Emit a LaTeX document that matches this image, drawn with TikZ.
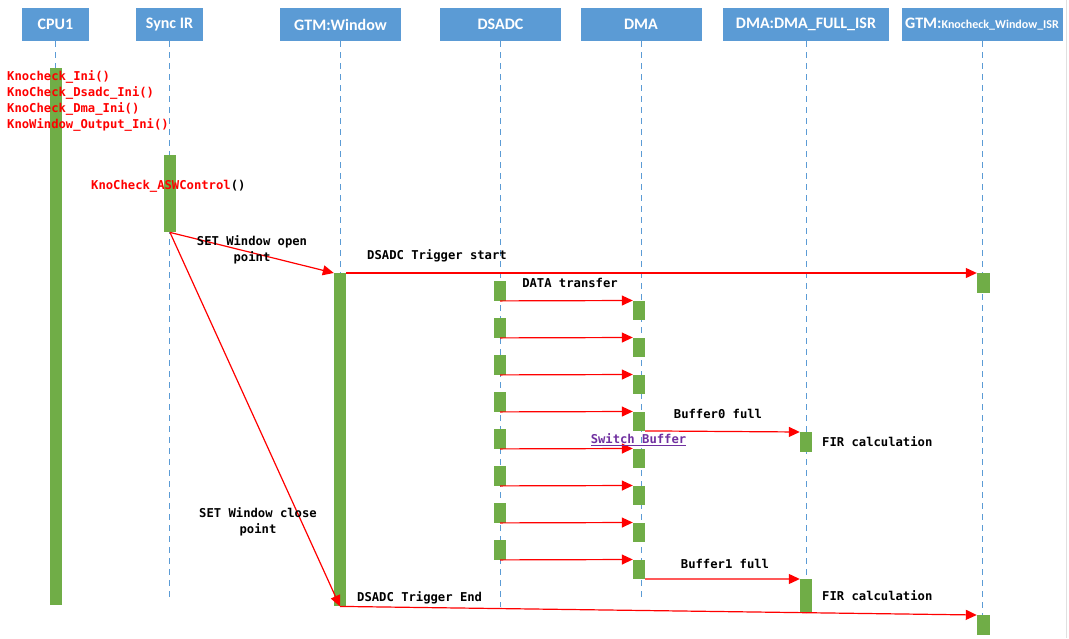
\documentclass[tikz,border=0pt]{standalone}
\usepackage{fontspec}
\setmainfont{Carlito}
\setmonofont{DejaVu Sans Mono}
\usetikzlibrary{arrows.meta}
\definecolor{headblue}{HTML}{5B9BD5}
\definecolor{actgreen}{HTML}{70AD47}
\definecolor{linkpurple}{HTML}{7030A0}
\tikzset{
	head/.style={fill=headblue, text=white, font=\fontsize{16}{19}\selectfont\bfseries, minimum height=33, inner sep=0pt},
	life/.style={draw=headblue, dash pattern=on 6pt off 5pt, line width=0.9pt},
	act/.style={fill=actgreen, minimum width=12, inner sep=0pt, anchor=north},
	msg/.style={draw=red, line width=1.2pt, -{Triangle[length=11pt,width=10pt]}},
	lbl/.style={font=\fontsize{12.2}{16}\selectfont\ttfamily\bfseries, inner sep=0pt},
	fn/.style={lbl, text=red, anchor=west},
}

\begin{document}
\begin{tikzpicture}[x=1pt, y=-1pt]
			%%%%% START %%%%%
			
			\useasboundingbox (0, 0) rectangle (1069, 638);
			\draw[black!12] (1066, 0) -- (1066, 638);
			
			% heads
			\node[head, minimum width=67] (cpu) at (55.5, 24.5) {CPU1};
			\node[head, minimum width=67] (sync) at (169.5, 24.5) {Sync IR};
			\node[head, minimum width=121] (gtm) at (340.5, 24.5) {GTM:Window};
			\node[head, minimum width=121] (dsadc) at (500.5, 24.5) {DSADC};
			\node[head, minimum width=121] (dma) at (641, 24.5) {DMA};
			\node[head, minimum width=166] (full) at (806, 24.5) {DMA:DMA\_FULL\_ISR};
			\node[head, minimum width=161] (isr) at (982, 24.5) {GTM:{\fontsize{12}{14}\selectfont Knocheck\_Window\_ISR}};
			
			% lifelines
			\foreach \n/\l in {cpu/559, sync/559, gtm/565, dsadc/566, dma/556, full/572, isr/574}
				\draw[life] (\n.south) -- ++(0, \l);
			
			% activations
			\node[act, minimum height=537] (cpubar) at (56, 68) {};
			\node[act, minimum height=77] (syncbar) at (170, 155) {};
			\node[act, minimum height=333] (gtmbar) at (340, 273) {};
			\foreach \k in {0,...,7} {
				\node[act, minimum height=19.5] (d\k) at (500, {281+37*\k}) {};
				\node[act, minimum height=19] (m\k) at (639, {300.5+37*\k}) {};
			}
			\node[act, minimum height=20] (isr0) at (806, 432) {};
			\node[act, minimum height=34] (isr1) at (806, 579) {};
			\node[act, minimum width=13, minimum height=20] (g0) at (983.5, 273) {};
			\node[act, minimum width=13, minimum height=20] (g1) at (983.5, 615) {};
			
			% messages
			\draw[msg] (syncbar.south) -- (gtmbar.north west);
			\draw[msg] (syncbar.south) -- (gtmbar.south);
			\draw[msg] (gtmbar.north east) -- (g0.north west);
			\foreach \k in {0,...,7}
				\draw[msg] (d\k.south) -- (m\k.north west);
			\draw[msg] (m3.south east) -- (isr0.north west);
			\draw[msg] (m7.south east) -- (isr1.north west);
			\draw[msg] (gtmbar.south) -- (g1.north west);
			
			% texts
			\node[fn] (ini1) at (7, 77) {Knocheck\_Ini()};
			\node[fn] (ini2) at (7, 93) {KnoCheck\_Dsadc\_Ini()};
			\node[fn] (ini3) at (7, 109) {KnoCheck\_Dma\_Ini()};
			\node[fn] (ini4) at (7, 125) {KnoWindow\_Output\_Ini()};
			\node[fn] (asw) at (91, 186) {KnoCheck\_ASWControl\textcolor{black}{()}};
			
			\node[lbl, align=center] (openlbl) at (252, 250) {SET Window open\\point};
			\node[lbl] (startlbl) at (437, 256) {DSADC Trigger start};
			\node[lbl] (datalbl) at (570, 283) {DATA transfer};
			\node[lbl] (b0lbl) at (718, 414) {Buffer0 full};
			\node[lbl, anchor=west] (fir0) at (822, 442) {FIR calculation};
			\node[lbl, text=linkpurple] (swlbl) at (638.5, 440) {\underline{Switch Buffer}};
			\node[lbl, align=center] (closelbl) at (258, 522) {SET Window close\\point};
			\node[lbl] (b1lbl) at (725, 564) {Buffer1 full};
			\node[lbl, anchor=west] (fir1) at (822, 596) {FIR calculation};
			\node[lbl, anchor=west] (endlbl) at (357, 598) {DSADC Trigger End};
			
			%%%%% END %%%%%
		\end{tikzpicture}
\end{document}
